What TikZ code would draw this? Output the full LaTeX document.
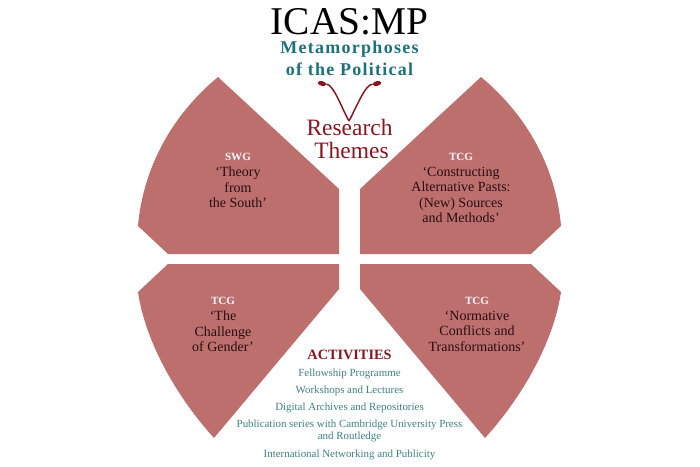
\documentclass[tikz,border=0pt]{standalone}
\usepackage{fontspec}
\setmainfont{Liberation Serif}
\usetikzlibrary{shapes.geometric}
\definecolor{icasrose}{RGB}{189, 111, 110}
\definecolor{icasteal}{RGB}{30, 112, 122}
\definecolor{icaslight}{RGB}{62, 128, 135}
\definecolor{icasred}{RGB}{135, 22, 32}
\definecolor{icasdark}{RGB}{40, 14, 16}
\tikzstyle{petal} = [fill=icasrose]
\tikzstyle{tag} = [anchor=base, inner sep=0pt, text=white!92!icasrose, font=\fontsize{8.3}{10}\selectfont\bfseries]
\tikzstyle{theme} = [anchor=north, inner sep=0pt, align=center, text=icasdark, font=\fontsize{10.5}{11.7}\selectfont]
\tikzstyle{activity} = [anchor=base, inner sep=0pt, align=center, text=icaslight, font=\fontsize{8.2}{9}\selectfont]
\tikzstyle{curl} = [icasred, line width=1.1pt]
\tikzstyle{curlend} = [ellipse, fill=icasred, inner sep=0pt, minimum width=6.5pt, minimum height=3.5pt]

\begin{document}
\begin{tikzpicture}[x=0.75pt, y=-0.75pt]
    \useasboundingbox (0,0) rectangle (700,467);

    % petals
    \fill[petal] (138,226) .. controls (143,168) and (172,115) .. (218,77) -- (339,189) -- (339,254) -- (168,254) -- cycle;
    \fill[petal] (561,226) .. controls (556,168) and (527,115) .. (481,77) -- (360,189) -- (360,254) -- (531,254) -- cycle;
    \fill[petal] (138,292) .. controls (145,340) and (175,395) .. (214,438) -- (339,289) -- (339,264) -- (168,264) -- cycle;
    \fill[petal] (561,292) .. controls (554,340) and (524,395) .. (485,438) -- (360,289) -- (360,264) -- (531,264) -- cycle;

    % heading
    \node[anchor=base, inner sep=0pt, font=\fontsize{29.5}{32}\selectfont] (title) at (349.5,34.5) {ICAS:MP};
    \node[anchor=base, inner sep=0pt, text=icasteal, font=\fontsize{13.5}{15.6}\selectfont\bfseries\addfontfeature{LetterSpace=7}] (subtitle1) at (349.5,54) {Metamorphoses};
    \node[anchor=base, inner sep=0pt, text=icasteal, font=\fontsize{13.5}{15.6}\selectfont\bfseries\addfontfeature{LetterSpace=7}] (subtitle2) at (349.5,75) {of the Political};
    \node[anchor=base, inner sep=0pt, text=icasred, font=\fontsize{17.6}{17.6}\selectfont] (research) at (349.5,135) {Research};
    \node[anchor=base, inner sep=0pt, text=icasred, font=\fontsize{17.6}{17.6}\selectfont] (themes) at (351.5,158) {Themes};

    % curls
    \coordinate (vtip) at (349,121);
    \node[curlend, rotate=-12] (curlleft) at (322,83.5) {};
    \node[curlend, rotate=12] (curlright) at (377,83.5) {};
    \draw[curl] (vtip) .. controls (342,109) and (334,85) .. (curlleft);
    \draw[curl] (vtip) .. controls (357,106) and (365,85) .. (curlright);

    % top left
    \node[tag] (swg) at (238,160) {SWG};
    \node[theme] (south) at (238,166.5) {‘Theory\\from\\the South’};
    % top right
    \node[tag] (tcgpasts) at (461,160) {TCG};
    \node[theme] (pasts) at (461,166.5) {‘Constructing\\Alternative Pasts:\\(New) Sources\\and Methods’};
    % bottom left
    \node[tag] (tcggender) at (223,304) {TCG};
    \node[theme] (gender) at (223,310.5) {‘The\\Challenge\\of Gender’};
    % bottom right
    \node[tag] (tcgnorm) at (477,304) {TCG};
    \node[theme] (norm) at (477,310.5) {‘Normative\\Conflicts and\\Transformations’};

    % activities
    \node[anchor=base, inner sep=0pt, text=icasred, font=\fontsize{10.7}{12}\selectfont\bfseries] (activities) at (349.5,359) {ACTIVITIES};
    \node[activity] (fellow) at (349.5,376) {Fellowship Programme};
    \node[activity] (work) at (349.5,393) {Workshops and Lectures};
    \node[activity] (digital) at (349.5,410) {Digital Archives and Repositories};
    \node[activity] (publish) at (349.5,427) {Publication series with Cambridge University Press};
    \node[activity] (routledge) at (349.5,439) {and Routledge};
    \node[activity] (network) at (349.5,457) {International Networking and Publicity};
\end{tikzpicture}
\end{document}
